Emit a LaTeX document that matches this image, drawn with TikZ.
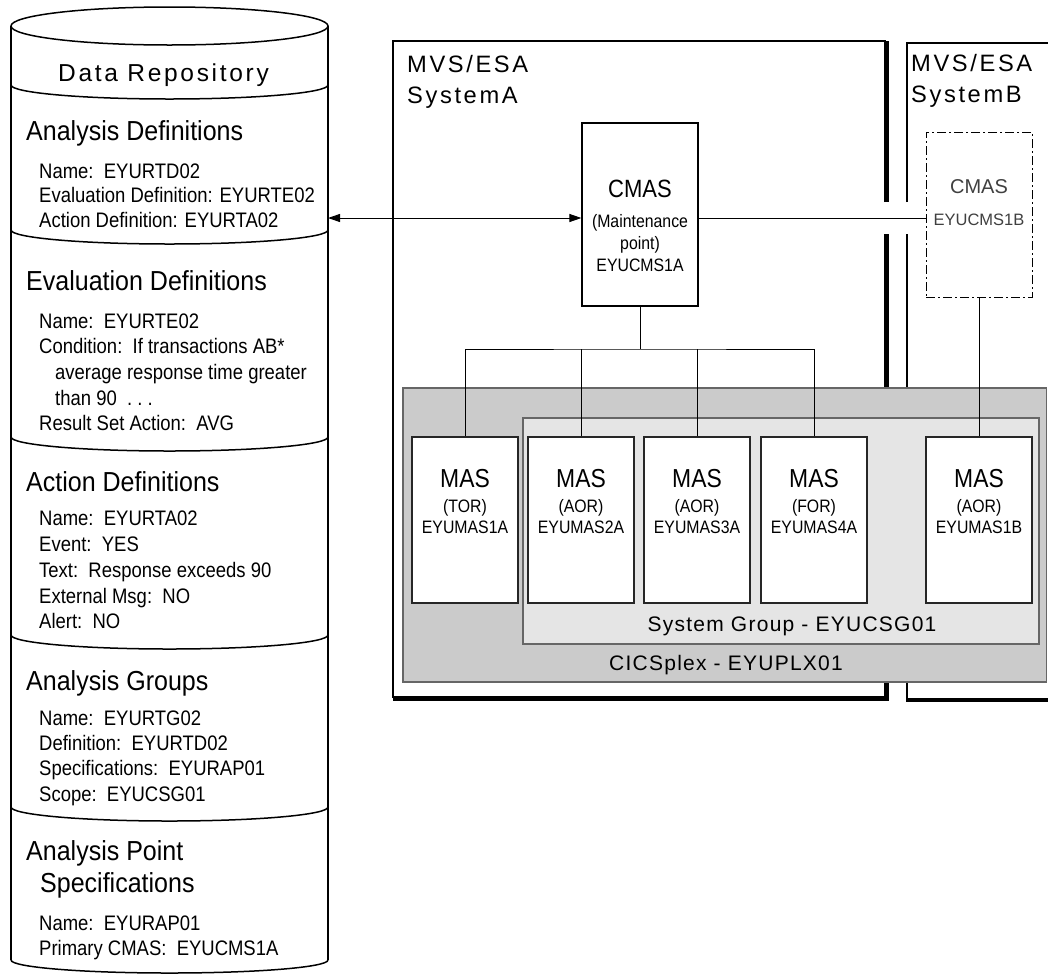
\documentclass[tikz,border=0pt]{standalone}
\usepackage{fontspec}
\setmainfont{Liberation Sans}
\newfontfamily\condf[FakeStretch=0.88]{Liberation Sans}
\newfontfamily\condh[FakeStretch=0.91]{Liberation Sans}
\newfontfamily\widef[LetterSpace=11]{Liberation Sans}
\newfontfamily\widel[LetterSpace=6]{Liberation Sans}
\usetikzlibrary{arrows.meta,calc}
\definecolor{plexgray}{HTML}{CBCBCB}
\definecolor{grpgray}{HTML}{E5E5E5}
\newcommand\masbox[4]{%
  \node[masbox] (#1) at (#2,520) {};
  \node[big] (#1-a) at (#2,487) {MAS};
  \node[small] (#1-b) at (#2,512) {(#3)};
  \node[small] (#1-c) at (#2,533) {#4};
}
\begin{document}
\begin{tikzpicture}[x=1pt,y=-1pt,
  head/.style={anchor=base west, inner sep=0pt, font=\condh\fontsize{27.5}{30}\selectfont},
  body/.style={anchor=base west, inner sep=0pt, font=\condf\fontsize{21}{24}\selectfont},
  wide/.style={inner sep=0pt, font=\widef\fontsize{23.7}{28}\selectfont},
  lbl/.style={inner sep=0pt, anchor=base, font=\widel\fontsize{21}{24}\selectfont},
  frame/.style={line width=1.8pt},
  shadow/.style={line width=4pt},
  cyl/.style={line width=1.5pt},
  masbox/.style={draw=black!85, fill=white, line width=1.2pt, minimum width=106pt, minimum height=166pt, inner sep=0pt},
  big/.style={anchor=base, inner sep=0pt, font=\condf\fontsize{26}{28}\selectfont},
  small/.style={anchor=base, inner sep=0pt, font=\condf\fontsize{18}{20}\selectfont},
  conn/.style={line width=1pt, draw=black},
  tri/.tip={Triangle[length=12pt,width=8pt]},
]
\useasboundingbox[fill=white] (0,0) rectangle (1048,975);

% ---------------- Data repository cylinder ----------------
\draw[cyl] (169.5,26) ellipse [x radius=158.5pt, y radius=19pt];
\draw[cyl] (11,26) -- (11,960);
\draw[cyl] (328,26) -- (328,960);
\foreach \ys in {85,230,437,635,807}
  \draw[cyl] (11,\ys) arc[start angle=180, end angle=360, x radius=158.5pt, y radius=14pt];
\draw[cyl] (11,960) arc[start angle=180, end angle=360, x radius=158.5pt, y radius=13pt];

\node[wide, anchor=base, font=\widef\fontsize{24.5}{28}\selectfont] (drtitle) at (163.5,81) {Data Repository};

\node[head] (h1) at (26,140) {Analysis Definitions};
\node[body] (b11) at (39,178) {Name:~~EYURTD02};
\node[body] (b12) at (39,202.5) {Evaluation Definition: EYURTE02};
\node[body] (b13) at (39,227) {Action Definition: EYURTA02};

\node[head] (h2) at (26,290) {Evaluation Definitions};
\node[body] (b21) at (39,328) {Name:~~EYURTE02};
\node[body] (b22) at (39,353) {Condition:~~If transactions AB*};
\node[body] (b23) at (55,379) {average response time greater};
\node[body] (b24) at (55,405) {than 90~~.~.~.};
\node[body] (b25) at (39,430) {Result Set Action:~~AVG};

\node[head] (h3) at (26,491) {Action Definitions};
\node[body] (b31) at (39,525) {Name:~~EYURTA02};
\node[body] (b32) at (39,551) {Event:~~YES};
\node[body] (b33) at (39,577) {Text:~~Response exceeds 90};
\node[body] (b34) at (39,603) {External Msg:~~NO};
\node[body] (b35) at (39,628) {Alert:~~NO};

\node[head] (h4) at (26,690) {Analysis Groups};
\node[body] (b41) at (39,725) {Name:~~EYURTG02};
\node[body] (b42) at (39,750) {Definition:~~EYURTD02};
\node[body] (b43) at (39,775) {Specifications:~~EYURAP01};
\node[body] (b44) at (39,801) {Scope:~~EYUCSG01};

\node[head] (h5) at (26,860) {Analysis Point};
\node[head] (h5b) at (40,892) {Specifications};
\node[body] (b51) at (39,930) {Name:~~EYURAP01};
\node[body] (b52) at (39,955) {Primary CMAS:~~EYUCMS1A};

% ---------------- MVS/ESA frames ----------------
\draw[frame] (885,202) -- (885,41) -- (393,41) -- (393,697) -- (885,697) -- (885,234);
\draw[shadow] (887,41) -- (887,202);
\draw[shadow] (887,234) -- (887,699) -- (393,699);
\node[wide, anchor=base west] (sysA1) at (407,72) {MVS/ESA};
\node[wide, anchor=base west] (sysA2) at (407,103) {SystemA};

\draw[frame] (907,202) -- (907,43) -- (1060,43);
\draw[frame] (907,234) -- (907,700);
\draw[shadow] (906,700) -- (1060,700);
\node[wide, anchor=base west] (sysB1) at (911,71) {MVS/ESA};
\node[wide, anchor=base west] (sysB2) at (911,102) {SystemB};

% ---------------- CICSplex and system group ----------------
\draw[draw=black!60, fill=plexgray, line width=1.2pt] (403,388) rectangle (1046.5,682);
\draw[draw=black!60, fill=grpgray, line width=1.2pt] (523,418) rectangle (1039,644);
\node[lbl] (grp) at (792,631) {System Group - EYUCSG01};
\node[lbl] (plex) at (726,670) {CICSplex - EYUPLX01};

% ---------------- MAS boxes ----------------
\masbox{m1}{465}{TOR}{EYUMAS1A}
\masbox{m2}{581}{AOR}{EYUMAS2A}
\masbox{m3}{697}{AOR}{EYUMAS3A}
\masbox{m4}{814}{FOR}{EYUMAS4A}
\masbox{m5}{979}{AOR}{EYUMAS1B}

% ---------------- CMAS boxes ----------------
\node[draw, fill=white, line width=1.2pt, minimum width=116pt, minimum height=183pt, inner sep=0pt] (cmasA) at (640,214.5) {};
\node[big, font=\condf\fontsize{25}{28}\selectfont] (cmasA-a) at (640,197) {CMAS};
\node[small] (cmasA-b) at (640,227) {(Maintenance};
\node[small] (cmasA-c) at (640,249) {point)};
\node[small] (cmasA-d) at (640,271) {EYUCMS1A};

\node[draw, line width=1pt, dash pattern=on 9pt off 3pt on 2pt off 3pt, minimum width=106pt, minimum height=165pt, inner sep=0pt] (cmasB) at (979,214.5) {};
\node[anchor=base, inner sep=0pt, text=black!75, font=\fontsize{20}{22}\selectfont] (cmasB-a) at (979,193) {CMAS};
\node[anchor=base, inner sep=0pt, text=black!75, font=\fontsize{16.5}{18}\selectfont] (cmasB-b) at (979,225) {EYUCMS1B};

% ---------------- connectors ----------------
\coordinate (lk) at (0,218);
\coordinate (repo) at (328,218);
\draw[conn, tri-tri] (repo) -- (cmasA.west |- lk);
\draw[conn] (cmasA.east |- lk) -- (cmasB.west |- lk);
\draw[conn] (cmasB.south) -- (m5.north);
\coordinate (bus) at (640,349);
\draw[conn] (cmasA.south) -- (bus);
\draw[conn] (m1.north) |- (bus) -| (m4.north);
\draw[conn] (m2.north) -- (m2.north |- bus);
\draw[conn] (m3.north) -- (m3.north |- bus);
\end{tikzpicture}
\end{document}
